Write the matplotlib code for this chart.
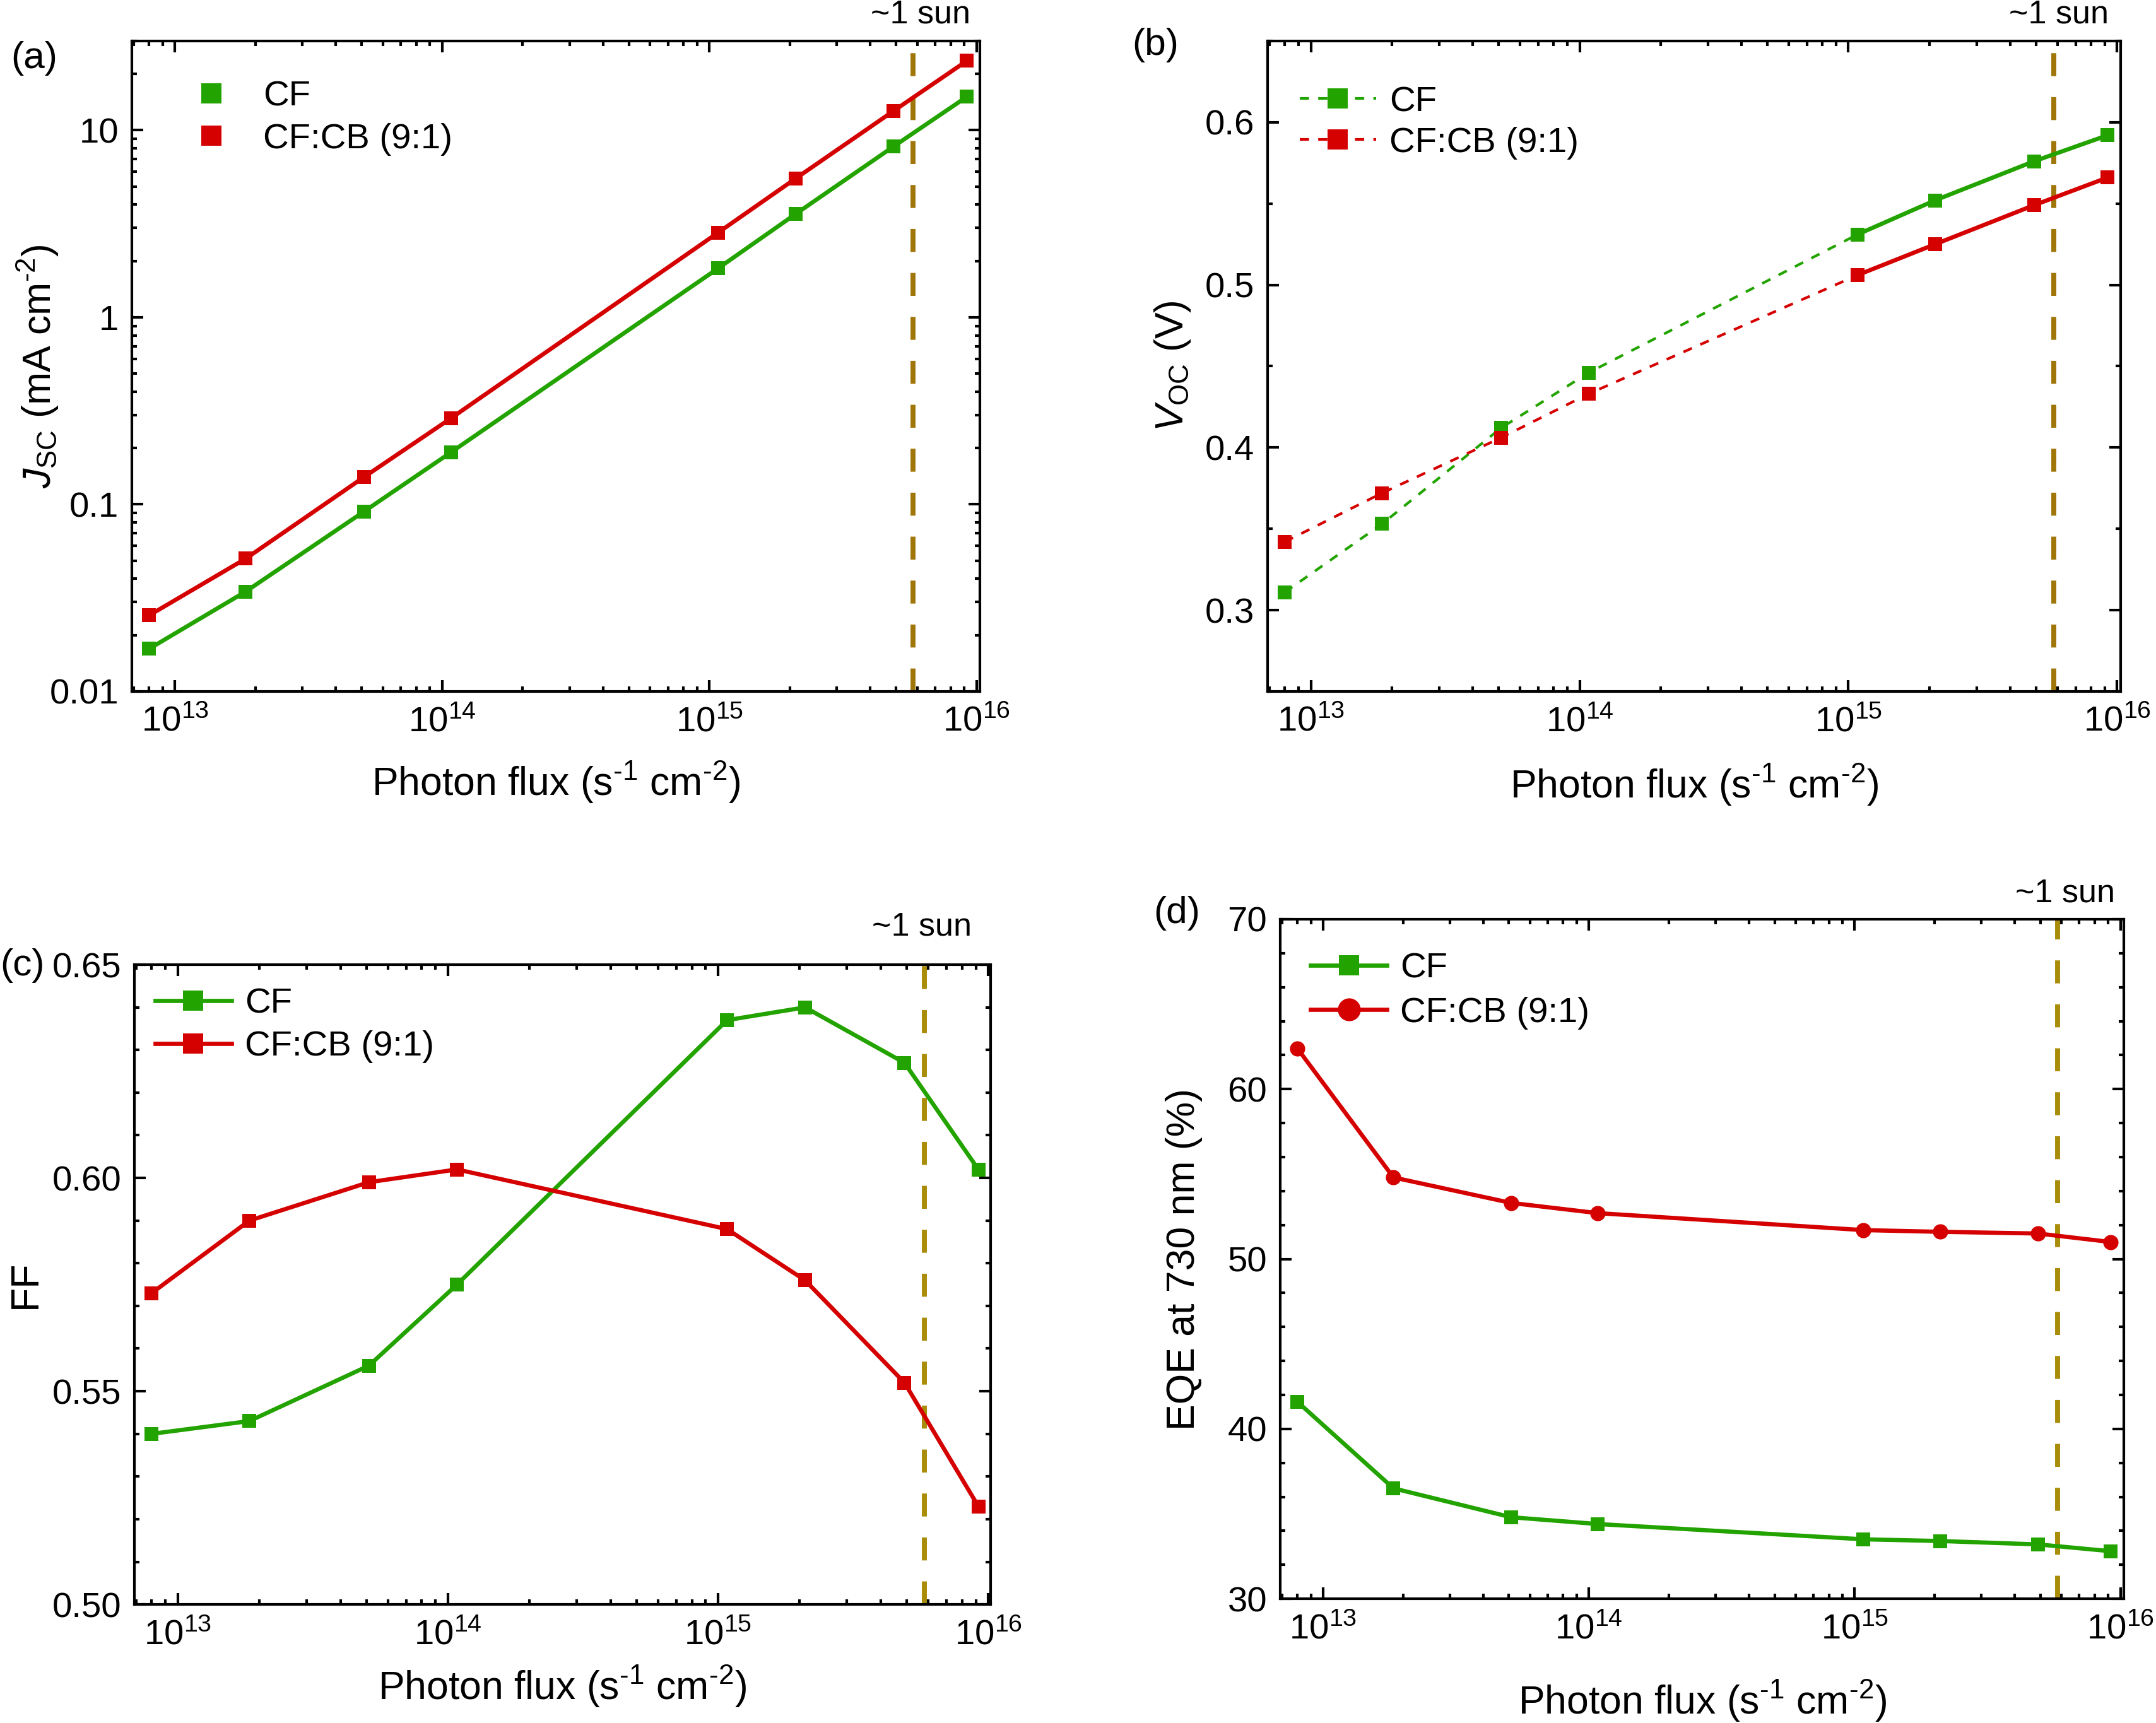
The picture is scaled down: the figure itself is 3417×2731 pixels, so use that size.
'''
Light intensity dependence of solar cell parameters (CF vs CF:CB)
'''
import matplotlib.pyplot as plt
from matplotlib.ticker import LogLocator, MultipleLocator, FuncFormatter, NullFormatter

plt.rcParams['font.family'] = ['Liberation Sans', 'DejaVu Sans']
plt.rcParams['mathtext.fontset'] = 'custom'
plt.rcParams['mathtext.rm'] = 'Liberation Sans'
plt.rcParams['mathtext.it'] = 'Liberation Sans:italic'
plt.rcParams['mathtext.bf'] = 'Liberation Sans:bold'

# data
flux = [8.0e12, 1.84e13, 5.1e13, 1.08e14, 1.08e15, 2.1e15, 4.9e15, 9.2e15]
sun_flux = 5.8e15

jsc_cf = [0.0169, 0.0342, 0.0916, 0.190, 1.83, 3.56, 8.2, 15.1]
jsc_cb = [0.0255, 0.0513, 0.140, 0.289, 2.84, 5.51, 12.7, 23.5]

voc_cf = [0.311, 0.353, 0.412, 0.446, 0.531, 0.552, 0.576, 0.592]
voc_cb = [0.342, 0.372, 0.406, 0.433, 0.506, 0.525, 0.549, 0.566]

ff_cf = [0.540, 0.543, 0.556, 0.575, 0.637, 0.640, 0.627, 0.602]
ff_cb = [0.573, 0.590, 0.599, 0.602, 0.588, 0.576, 0.552, 0.523]

eqe_cf = [41.6, 36.5, 34.8, 34.4, 33.5, 33.4, 33.2, 32.8]
eqe_cb = [62.4, 54.8, 53.3, 52.7, 51.7, 51.6, 51.5, 51.0]

labels = ['CF', 'CF:CB (9:1)']

GREEN = '#22a300'
RED = '#d50000'
SUN_AB = '#a0760a'
SUN_CD = '#a98c08'
XLABEL = r'Photon flux (s$^{\text{-1}}$ cm$^{\text{-2}}$)'


def SetupAxes(fig, rect):
    #log x axis with inward ticks on every side
    ax = fig.add_axes(rect)
    ax.set_xscale('log')
    ax.set_xlim(6.9e12, 1.03e16)
    ax.xaxis.set_major_locator(LogLocator(base=10, numticks=10))
    ax.xaxis.set_minor_locator(LogLocator(base=10, subs=range(2, 10), numticks=30))
    ax.xaxis.set_minor_formatter(NullFormatter())
    ax.tick_params(which='both', direction='in', top=True, right=True, width=1.0,
                   labelsize=13.5)
    ax.tick_params(which='major', length=4.4)
    ax.tick_params(which='minor', length=2.0)
    ax.tick_params(axis='y', which='both', pad=5)
    ax.tick_params(axis='x', which='both', pad=5.5)
    for spine in ax.spines.values():
        spine.set_linewidth(1.0)
    return ax


def SunLine(ax, color):
    ax.axvline(sun_flux, color=color, lw=1.9, dashes=(4.6, 4.2), zorder=1.5)


def Labels(ax, ylabel, xoff, yoff):
    ax.set_xlabel(XLABEL, fontsize=15)
    ax.xaxis.set_label_coords(0.5, yoff)
    ax.xaxis.label.set_va('center')
    ax.set_ylabel(ylabel, fontsize=15)
    ax.yaxis.set_label_coords(xoff, 0.5)
    ax.yaxis.label.set_va('center')


def Legend(ax, x, y, spacing):
    ax.legend(loc='upper left', bbox_to_anchor=(x, y), frameon=False, fontsize=13.5,
              markerscale=1.5, handlelength=2.15, handletextpad=0.38,
              labelspacing=spacing, borderpad=0, borderaxespad=0)


fig = plt.figure(figsize=(3417 / 300, 2731 / 300), dpi=300)

# (a) Jsc
ax = SetupAxes(fig, [0.0612, 0.5987, 0.3933, 0.3775])
ax.set_yscale('log')
ax.set_ylim(0.01, 30)
ax.yaxis.set_major_locator(LogLocator(base=10, numticks=10))
ax.yaxis.set_minor_locator(LogLocator(base=10, subs=range(2, 10), numticks=30))
ax.yaxis.set_major_formatter(FuncFormatter(lambda v, p: '%g' % v))
ax.yaxis.set_minor_formatter(NullFormatter())
SunLine(ax, SUN_AB)
for y, c, lab in [(jsc_cf, GREEN, labels[0]), (jsc_cb, RED, labels[1])]:
    ax.plot(flux, y, '-', color=c, lw=1.6, zorder=2)
    ax.plot(flux, y, 's', color=c, ms=5.2, mew=0, ls='none', label=lab, zorder=3)
Legend(ax, 0.049, 0.9395, 0.27)
Labels(ax, r'$J_{\mathrm{SC}}$ (mA cm$^{\text{-2}}$)', -0.111, -0.140)

# (b) Voc
ax = SetupAxes(fig, [0.5879, 0.5987, 0.3957, 0.3775])
ax.set_ylim(0.25, 0.65)
ax.yaxis.set_major_locator(MultipleLocator(0.1))
ax.yaxis.set_minor_locator(MultipleLocator(0.05))
ax.yaxis.set_major_formatter(FuncFormatter(lambda v, p: '%.1f' % v))
SunLine(ax, SUN_AB)
for y, c, lab in [(voc_cf, GREEN, labels[0]), (voc_cb, RED, labels[1])]:
    ax.plot(flux[:5], y[:5], color=c, lw=1.0, dashes=(3.5, 3.5), marker='s',
            ms=5.2, mew=0, label=lab, zorder=2)
    ax.plot(flux[4:], y[4:], color=c, lw=1.6, marker='s', ms=5.2, mew=0, zorder=2)
Legend(ax, 0.0377, 0.931, 0.23)
Labels(ax, r'$V_{\mathrm{OC}}$ (V)', -0.111, -0.1435)

# (c) FF
ax = SetupAxes(fig, [0.0623, 0.0688, 0.3971, 0.3713])
ax.set_xlim(6.9e12, 1.02e16)
ax.set_ylim(0.50, 0.65)
ax.yaxis.set_major_locator(MultipleLocator(0.05))
ax.yaxis.set_minor_locator(MultipleLocator(0.01))
ax.yaxis.set_major_formatter(FuncFormatter(lambda v, p: '%.2f' % v))
SunLine(ax, SUN_CD)
for y, c, lab in [(ff_cf, GREEN, labels[0]), (ff_cb, RED, labels[1])]:
    ax.plot(flux, y, color=c, lw=1.6, marker='s', ms=5.2, mew=0, label=lab, zorder=2)
Legend(ax, 0.0243, 0.964, 0.28)
Labels(ax, 'FF', -0.1275, -0.128)

# (d) EQE
ax = SetupAxes(fig, [0.5938, 0.0721, 0.3913, 0.3944])
ax.set_ylim(30, 70)
ax.yaxis.set_major_locator(MultipleLocator(10))
ax.yaxis.set_minor_locator(MultipleLocator(2))
ax.yaxis.set_major_formatter(FuncFormatter(lambda v, p: '%d' % v))
SunLine(ax, SUN_CD)
ax.plot(flux, eqe_cf, color=GREEN, lw=1.6, marker='s', ms=5.2, mew=0,
        label=labels[0], zorder=2)
ax.plot(flux, eqe_cb, color=RED, lw=1.6, marker='o', ms=5.8, mew=0,
        label=labels[1], zorder=2)
Legend(ax, 0.036, 0.951, 0.32)
Labels(ax, 'EQE at 730 nm (%)', -0.1144, -0.151)

# panel letters and 1 sun marks
for x, y, t in [(0.005, 0.966, '(a)'), (0.525, 0.974, '(b)'),
                (0.0, 0.4396, '(c)'), (0.535, 0.470, '(d)')]:
    fig.text(x, y, t, fontsize=14.5, ha='left', va='center')
for x, y in [(0.450, 0.9916), (0.978, 0.9916), (0.4507, 0.462), (0.981, 0.4815)]:
    fig.text(x, y, '~1 sun', fontsize=12.5, ha='right', va='center')

plt.savefig('out.png', dpi=300)
plt.close()
